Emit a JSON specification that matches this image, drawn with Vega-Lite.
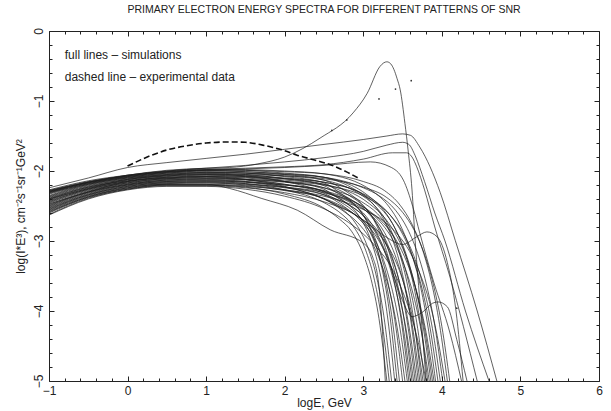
{
"$schema":"https://vega.github.io/schema/vega-lite/v6.json",
"width":550,"height":350,
"autosize":"none",
"padding":{"left":49,"top":31,"right":12,"bottom":30},
"background":"white",
"title":{"text":"PRIMARY ELECTRON ENERGY SPECTRA FOR DIFFERENT PATTERNS OF SNR","fontSize":10.5,"fontWeight":"normal","font":"Liberation Sans","color":"#222","offset":12,"anchor":"middle"},
"config":{"view":{"stroke":"#222","strokeWidth":1},"font":"Liberation Sans","axis":{"grid":false,"domain":false}},
"datasets":{
"bundle":[
{"c":1,"x":-1,"y":-2.27},{"c":1,"x":-0.5,"y":-2.14},{"c":1,"x":0,"y":-2.06},{"c":1,"x":0.5,"y":-2.0},{"c":1,"x":1,"y":-1.97},{"c":1,"x":1.5,"y":-1.98},{"c":1,"x":2,"y":-2.0},{"c":1,"x":2.5,"y":-2.04},{"c":1,"x":3.12,"y":-2.29},{"c":1,"x":3.32,"y":-2.5},{"c":1,"x":3.47,"y":-2.77},{"c":1,"x":3.62,"y":-3.2},{"c":1,"x":3.72,"y":-3.61},{"c":1,"x":3.82,"y":-4.2},{"c":1,"x":3.92,"y":-5},
{"c":2,"x":-1,"y":-2.28},{"c":2,"x":-0.5,"y":-2.15},{"c":2,"x":0,"y":-2.07},{"c":2,"x":0.5,"y":-2.01},{"c":2,"x":1,"y":-1.98},{"c":2,"x":1.5,"y":-1.99},{"c":2,"x":2,"y":-2.03},{"c":2,"x":2.5,"y":-2.09},{"c":2,"x":2.9,"y":-2.27},{"c":2,"x":3.1,"y":-2.44},{"c":2,"x":3.25,"y":-2.67},{"c":2,"x":3.4,"y":-3.07},{"c":2,"x":3.5,"y":-3.48},{"c":2,"x":3.6,"y":-4.1},{"c":2,"x":3.7,"y":-5},
{"c":3,"x":-1,"y":-2.29},{"c":3,"x":-0.5,"y":-2.16},{"c":3,"x":0,"y":-2.07},{"c":3,"x":0.5,"y":-2.01},{"c":3,"x":1,"y":-1.99},{"c":3,"x":1.5,"y":-1.99},{"c":3,"x":2,"y":-2.01},{"c":3,"x":2.5,"y":-2.04},{"c":3,"x":3.0,"y":-2.15},{"c":3,"x":3.27,"y":-2.28},{"c":3,"x":3.47,"y":-2.49},{"c":3,"x":3.62,"y":-2.76},{"c":3,"x":3.77,"y":-3.18},{"c":3,"x":3.87,"y":-3.6},{"c":3,"x":3.97,"y":-4.19},{"c":3,"x":4.07,"y":-5},
{"c":4,"x":-1,"y":-2.3},{"c":4,"x":-0.5,"y":-2.16},{"c":4,"x":0,"y":-2.08},{"c":4,"x":0.5,"y":-2.02},{"c":4,"x":1,"y":-1.99},{"c":4,"x":1.5,"y":-2.01},{"c":4,"x":2,"y":-2.05},{"c":4,"x":2.5,"y":-2.13},{"c":4,"x":2.78,"y":-2.29},{"c":4,"x":2.98,"y":-2.47},{"c":4,"x":3.13,"y":-2.69},{"c":4,"x":3.28,"y":-3.09},{"c":4,"x":3.38,"y":-3.5},{"c":4,"x":3.48,"y":-4.11},{"c":4,"x":3.58,"y":-5},
{"c":5,"x":-1,"y":-2.31},{"c":5,"x":-0.5,"y":-2.17},{"c":5,"x":0,"y":-2.09},{"c":5,"x":0.5,"y":-2.03},{"c":5,"x":1,"y":-2.0},{"c":5,"x":1.5,"y":-2.01},{"c":5,"x":2,"y":-2.04},{"c":5,"x":2.5,"y":-2.09},{"c":5,"x":3.06,"y":-2.35},{"c":5,"x":3.26,"y":-2.56},{"c":5,"x":3.41,"y":-2.83},{"c":5,"x":3.56,"y":-3.24},{"c":5,"x":3.66,"y":-3.65},{"c":5,"x":3.76,"y":-4.21},{"c":5,"x":3.86,"y":-5},
{"c":6,"x":-1,"y":-2.32},{"c":6,"x":-0.5,"y":-2.18},{"c":6,"x":0,"y":-2.09},{"c":6,"x":0.5,"y":-2.03},{"c":6,"x":1,"y":-2.01},{"c":6,"x":1.5,"y":-2.03},{"c":6,"x":2,"y":-2.08},{"c":6,"x":2.5,"y":-2.17},{"c":6,"x":2.7,"y":-2.31},{"c":6,"x":2.9,"y":-2.49},{"c":6,"x":3.05,"y":-2.72},{"c":6,"x":3.2,"y":-3.12},{"c":6,"x":3.3,"y":-3.52},{"c":6,"x":3.4,"y":-4.12},{"c":6,"x":3.5,"y":-5},
{"c":7,"x":-1,"y":-2.33},{"c":7,"x":-0.5,"y":-2.19},{"c":7,"x":0,"y":-2.1},{"c":7,"x":0.5,"y":-2.04},{"c":7,"x":1,"y":-2.02},{"c":7,"x":1.5,"y":-2.03},{"c":7,"x":2,"y":-2.05},{"c":7,"x":2.5,"y":-2.09},{"c":7,"x":3.0,"y":-2.24},{"c":7,"x":3.21,"y":-2.36},{"c":7,"x":3.41,"y":-2.56},{"c":7,"x":3.56,"y":-2.82},{"c":7,"x":3.71,"y":-3.24},{"c":7,"x":3.81,"y":-3.65},{"c":7,"x":3.91,"y":-4.21},{"c":7,"x":4.01,"y":-5},
{"c":8,"x":-1,"y":-2.35},{"c":8,"x":-0.5,"y":-2.19},{"c":8,"x":0,"y":-2.1},{"c":8,"x":0.5,"y":-2.05},{"c":8,"x":1,"y":-2.02},{"c":8,"x":1.5,"y":-2.03},{"c":8,"x":2,"y":-2.07},{"c":8,"x":2.5,"y":-2.13},{"c":8,"x":2.94,"y":-2.32},{"c":8,"x":3.14,"y":-2.49},{"c":8,"x":3.29,"y":-2.71},{"c":8,"x":3.44,"y":-3.1},{"c":8,"x":3.54,"y":-3.51},{"c":8,"x":3.64,"y":-4.11},{"c":8,"x":3.74,"y":-5},
{"c":9,"x":-1,"y":-2.36},{"c":9,"x":-0.5,"y":-2.2},{"c":9,"x":0,"y":-2.11},{"c":9,"x":0.5,"y":-2.05},{"c":9,"x":1,"y":-2.03},{"c":9,"x":1.5,"y":-2.05},{"c":9,"x":2,"y":-2.11},{"c":9,"x":2.5,"y":-2.21},{"c":9,"x":2.63,"y":-2.29},{"c":9,"x":2.83,"y":-2.43},{"c":9,"x":2.98,"y":-2.6},{"c":9,"x":3.13,"y":-2.95},{"c":9,"x":3.23,"y":-3.35},{"c":9,"x":3.33,"y":-3.99},{"c":9,"x":3.43,"y":-5},
{"c":10,"x":-1,"y":-2.37},{"c":10,"x":-0.5,"y":-2.21},{"c":10,"x":0,"y":-2.12},{"c":10,"x":0.5,"y":-2.06},{"c":10,"x":1,"y":-2.04},{"c":10,"x":1.5,"y":-2.05},{"c":10,"x":2,"y":-2.07},{"c":10,"x":2.5,"y":-2.11},{"c":10,"x":3.0,"y":-2.23},{"c":10,"x":3.3,"y":-2.38},{"c":10,"x":3.5,"y":-2.59},{"c":10,"x":3.65,"y":-2.85},{"c":10,"x":3.8,"y":-3.26},{"c":10,"x":3.9,"y":-3.66},{"c":10,"x":4.0,"y":-4.22},{"c":10,"x":4.1,"y":-5},
{"c":11,"x":-1,"y":-2.38},{"c":11,"x":-0.5,"y":-2.22},{"c":11,"x":0,"y":-2.12},{"c":11,"x":0.5,"y":-2.07},{"c":11,"x":1,"y":-2.05},{"c":11,"x":1.5,"y":-2.07},{"c":11,"x":2,"y":-2.11},{"c":11,"x":2.5,"y":-2.19},{"c":11,"x":2.82,"y":-2.35},{"c":11,"x":3.02,"y":-2.52},{"c":11,"x":3.17,"y":-2.75},{"c":11,"x":3.32,"y":-3.13},{"c":11,"x":3.42,"y":-3.54},{"c":11,"x":3.52,"y":-4.13},{"c":11,"x":3.62,"y":-5},
{"c":12,"x":-1,"y":-2.39},{"c":12,"x":-0.5,"y":-2.23},{"c":12,"x":0,"y":-2.13},{"c":12,"x":0.5,"y":-2.07},{"c":12,"x":1,"y":-2.05},{"c":12,"x":1.5,"y":-2.06},{"c":12,"x":2,"y":-2.1},{"c":12,"x":2.5,"y":-2.16},{"c":12,"x":3.02,"y":-2.35},{"c":12,"x":3.22,"y":-2.53},{"c":12,"x":3.37,"y":-2.75},{"c":12,"x":3.52,"y":-3.14},{"c":12,"x":3.62,"y":-3.53},{"c":12,"x":3.72,"y":-4.13},{"c":12,"x":3.82,"y":-5},
{"c":13,"x":-1,"y":-2.4},{"c":13,"x":-0.5,"y":-2.23},{"c":13,"x":0,"y":-2.14},{"c":13,"x":0.5,"y":-2.08},{"c":13,"x":1,"y":-2.06},{"c":13,"x":1.5,"y":-2.08},{"c":13,"x":2,"y":-2.15},{"c":13,"x":2.5,"y":-2.26},{"c":13,"x":2.6,"y":-2.33},{"c":13,"x":2.8,"y":-2.47},{"c":13,"x":2.95,"y":-2.65},{"c":13,"x":3.1,"y":-3.0},{"c":13,"x":3.2,"y":-3.39},{"c":13,"x":3.3,"y":-4.01},{"c":13,"x":3.4,"y":-5},
{"c":14,"x":-1,"y":-2.41},{"c":14,"x":-0.5,"y":-2.24},{"c":14,"x":0,"y":-2.14},{"c":14,"x":0.5,"y":-2.09},{"c":14,"x":1,"y":-2.07},{"c":14,"x":1.5,"y":-2.08},{"c":14,"x":2,"y":-2.11},{"c":14,"x":2.5,"y":-2.16},{"c":14,"x":3.15,"y":-2.43},{"c":14,"x":3.35,"y":-2.64},{"c":14,"x":3.5,"y":-2.9},{"c":14,"x":3.65,"y":-3.3},{"c":14,"x":3.75,"y":-3.69},{"c":14,"x":3.85,"y":-4.24},{"c":14,"x":3.95,"y":-5},
{"c":15,"x":-1,"y":-2.42},{"c":15,"x":-0.5,"y":-2.25},{"c":15,"x":0,"y":-2.15},{"c":15,"x":0.5,"y":-2.09},{"c":15,"x":1,"y":-2.08},{"c":15,"x":1.5,"y":-2.1},{"c":15,"x":2,"y":-2.15},{"c":15,"x":2.5,"y":-2.24},{"c":15,"x":2.86,"y":-2.42},{"c":15,"x":3.06,"y":-2.6},{"c":15,"x":3.21,"y":-2.82},{"c":15,"x":3.36,"y":-3.2},{"c":15,"x":3.46,"y":-3.59},{"c":15,"x":3.56,"y":-4.16},{"c":15,"x":3.66,"y":-5},
{"c":16,"x":-1,"y":-2.43},{"c":16,"x":-0.5,"y":-2.26},{"c":16,"x":0,"y":-2.15},{"c":16,"x":0.5,"y":-2.1},{"c":16,"x":1,"y":-2.08},{"c":16,"x":1.5,"y":-2.09},{"c":16,"x":2,"y":-2.13},{"c":16,"x":2.5,"y":-2.19},{"c":16,"x":3.08,"y":-2.47},{"c":16,"x":3.28,"y":-2.68},{"c":16,"x":3.43,"y":-2.94},{"c":16,"x":3.58,"y":-3.33},{"c":16,"x":3.68,"y":-3.73},{"c":16,"x":3.78,"y":-4.26},{"c":16,"x":3.88,"y":-5},
{"c":17,"x":-1,"y":-2.44},{"c":17,"x":-0.5,"y":-2.26},{"c":17,"x":0,"y":-2.16},{"c":17,"x":0.5,"y":-2.11},{"c":17,"x":1,"y":-2.09},{"c":17,"x":1.5,"y":-2.12},{"c":17,"x":2,"y":-2.19},{"c":17,"x":2.5,"y":-2.32},{"c":17,"x":2.66,"y":-2.41},{"c":17,"x":2.86,"y":-2.56},{"c":17,"x":3.01,"y":-2.73},{"c":17,"x":3.16,"y":-3.07},{"c":17,"x":3.26,"y":-3.45},{"c":17,"x":3.36,"y":-4.05},{"c":17,"x":3.46,"y":-5},
{"c":18,"x":-1,"y":-2.45},{"c":18,"x":-0.5,"y":-2.27},{"c":18,"x":0,"y":-2.17},{"c":18,"x":0.5,"y":-2.11},{"c":18,"x":1,"y":-2.1},{"c":18,"x":1.5,"y":-2.12},{"c":18,"x":2,"y":-2.16},{"c":18,"x":2.5,"y":-2.24},{"c":18,"x":2.98,"y":-2.44},{"c":18,"x":3.18,"y":-2.61},{"c":18,"x":3.33,"y":-2.83},{"c":18,"x":3.48,"y":-3.2},{"c":18,"x":3.58,"y":-3.6},{"c":18,"x":3.68,"y":-4.16},{"c":18,"x":3.78,"y":-5},
{"c":19,"x":-1,"y":-2.46},{"c":19,"x":-0.5,"y":-2.28},{"c":19,"x":0,"y":-2.17},{"c":19,"x":0.5,"y":-2.12},{"c":19,"x":1,"y":-2.11},{"c":19,"x":1.5,"y":-2.13},{"c":19,"x":2,"y":-2.19},{"c":19,"x":2.5,"y":-2.29},{"c":19,"x":2.8,"y":-2.47},{"c":19,"x":3.0,"y":-2.64},{"c":19,"x":3.15,"y":-2.87},{"c":19,"x":3.3,"y":-3.24},{"c":19,"x":3.4,"y":-3.63},{"c":19,"x":3.5,"y":-4.18},{"c":19,"x":3.6,"y":-5},
{"c":20,"x":-1,"y":-2.48},{"c":20,"x":-0.5,"y":-2.29},{"c":20,"x":0,"y":-2.18},{"c":20,"x":0.5,"y":-2.13},{"c":20,"x":1,"y":-2.11},{"c":20,"x":1.5,"y":-2.12},{"c":20,"x":2,"y":-2.15},{"c":20,"x":2.5,"y":-2.2},{"c":20,"x":3.18,"y":-2.47},{"c":20,"x":3.38,"y":-2.68},{"c":20,"x":3.53,"y":-2.93},{"c":20,"x":3.68,"y":-3.33},{"c":20,"x":3.78,"y":-3.72},{"c":20,"x":3.88,"y":-4.25},{"c":20,"x":3.98,"y":-5},
{"c":21,"x":-1,"y":-2.49},{"c":21,"x":-0.5,"y":-2.3},{"c":21,"x":0,"y":-2.19},{"c":21,"x":0.5,"y":-2.13},{"c":21,"x":1,"y":-2.12},{"c":21,"x":1.5,"y":-2.15},{"c":21,"x":2,"y":-2.23},{"c":21,"x":2.56,"y":-2.43},{"c":21,"x":2.76,"y":-2.57},{"c":21,"x":2.91,"y":-2.76},{"c":21,"x":3.06,"y":-3.1},{"c":21,"x":3.16,"y":-3.47},{"c":21,"x":3.26,"y":-4.06},{"c":21,"x":3.36,"y":-5},
{"c":22,"x":-1,"y":-2.5},{"c":22,"x":-0.5,"y":-2.3},{"c":22,"x":0,"y":-2.19},{"c":22,"x":0.5,"y":-2.14},{"c":22,"x":1,"y":-2.13},{"c":22,"x":1.5,"y":-2.15},{"c":22,"x":2,"y":-2.2},{"c":22,"x":2.5,"y":-2.29},{"c":22,"x":2.92,"y":-2.49},{"c":22,"x":3.12,"y":-2.65},{"c":22,"x":3.27,"y":-2.88},{"c":22,"x":3.42,"y":-3.25},{"c":22,"x":3.52,"y":-3.63},{"c":22,"x":3.62,"y":-4.18},{"c":22,"x":3.72,"y":-5},
{"c":23,"x":-1,"y":-2.51},{"c":23,"x":-0.5,"y":-2.31},{"c":23,"x":0,"y":-2.2},{"c":23,"x":0.5,"y":-2.15},{"c":23,"x":1,"y":-2.14},{"c":23,"x":1.5,"y":-2.16},{"c":23,"x":2,"y":-2.23},{"c":23,"x":2.5,"y":-2.34},{"c":23,"x":2.76,"y":-2.51},{"c":23,"x":2.96,"y":-2.7},{"c":23,"x":3.11,"y":-2.91},{"c":23,"x":3.26,"y":-3.28},{"c":23,"x":3.36,"y":-3.66},{"c":23,"x":3.46,"y":-4.2},{"c":23,"x":3.56,"y":-5},
{"c":24,"x":-1,"y":-2.52},{"c":24,"x":-0.5,"y":-2.32},{"c":24,"x":0,"y":-2.2},{"c":24,"x":0.5,"y":-2.15},{"c":24,"x":1,"y":-2.14},{"c":24,"x":1.5,"y":-2.16},{"c":24,"x":2,"y":-2.2},{"c":24,"x":2.5,"y":-2.28},{"c":24,"x":3.04,"y":-2.55},{"c":24,"x":3.24,"y":-2.76},{"c":24,"x":3.39,"y":-3.01},{"c":24,"x":3.54,"y":-3.41},{"c":24,"x":3.64,"y":-3.78},{"c":24,"x":3.74,"y":-4.3},{"c":24,"x":3.84,"y":-5},
{"c":25,"x":-1,"y":-2.53},{"c":25,"x":-0.5,"y":-2.33},{"c":25,"x":0,"y":-2.21},{"c":25,"x":0.5,"y":-2.16},{"c":25,"x":1,"y":-2.15},{"c":25,"x":1.5,"y":-2.18},{"c":25,"x":2,"y":-2.27},{"c":25,"x":2.53,"y":-2.47},{"c":25,"x":2.73,"y":-2.62},{"c":25,"x":2.88,"y":-2.8},{"c":25,"x":3.03,"y":-3.13},{"c":25,"x":3.13,"y":-3.5},{"c":25,"x":3.23,"y":-4.09},{"c":25,"x":3.33,"y":-5},
{"c":26,"x":-1,"y":-2.54},{"c":26,"x":-0.5,"y":-2.34},{"c":26,"x":0,"y":-2.22},{"c":26,"x":0.5,"y":-2.17},{"c":26,"x":1,"y":-2.16},{"c":26,"x":1.5,"y":-2.18},{"c":26,"x":2,"y":-2.24},{"c":26,"x":2.5,"y":-2.34},{"c":26,"x":2.88,"y":-2.53},{"c":26,"x":3.08,"y":-2.72},{"c":26,"x":3.23,"y":-2.93},{"c":26,"x":3.38,"y":-3.29},{"c":26,"x":3.48,"y":-3.67},{"c":26,"x":3.58,"y":-4.21},{"c":26,"x":3.68,"y":-5},
{"c":27,"x":-1,"y":-2.55},{"c":27,"x":-0.5,"y":-2.34},{"c":27,"x":0,"y":-2.22},{"c":27,"x":0.5,"y":-2.17},{"c":27,"x":1,"y":-2.17},{"c":27,"x":1.5,"y":-2.2},{"c":27,"x":2,"y":-2.27},{"c":27,"x":2.5,"y":-2.4},{"c":27,"x":2.73,"y":-2.56},{"c":27,"x":2.93,"y":-2.74},{"c":27,"x":3.08,"y":-2.96},{"c":27,"x":3.23,"y":-3.33},{"c":27,"x":3.33,"y":-3.69},{"c":27,"x":3.43,"y":-4.23},{"c":27,"x":3.53,"y":-5},
{"c":28,"x":-1,"y":-2.56},{"c":28,"x":-0.5,"y":-2.35},{"c":28,"x":0,"y":-2.23},{"c":28,"x":0.5,"y":-2.18},{"c":28,"x":1,"y":-2.17},{"c":28,"x":1.5,"y":-2.19},{"c":28,"x":2,"y":-2.23},{"c":28,"x":2.5,"y":-2.31},{"c":28,"x":3.1,"y":-2.59},{"c":28,"x":3.3,"y":-2.8},{"c":28,"x":3.45,"y":-3.05},{"c":28,"x":3.6,"y":-3.44},{"c":28,"x":3.7,"y":-3.81},{"c":28,"x":3.8,"y":-4.31},{"c":28,"x":3.9,"y":-5},
{"c":29,"x":-1,"y":-2.57},{"c":29,"x":-0.5,"y":-2.36},{"c":29,"x":0,"y":-2.24},{"c":29,"x":0.5,"y":-2.19},{"c":29,"x":1,"y":-2.19},{"c":29,"x":1.3,"y":-2.25},{"c":29,"x":1.7,"y":-2.39},{"c":29,"x":2.16,"y":-2.56},{"c":29,"x":2.58,"y":-2.84},{"c":29,"x":3.0,"y":-3.03},{"c":29,"x":3.12,"y":-3.23},{"c":29,"x":3.2,"y":-3.65},{"c":29,"x":3.25,"y":-4.4},{"c":29,"x":3.28,"y":-5},
{"c":30,"x":-1,"y":-2.58},{"c":30,"x":-0.5,"y":-2.37},{"c":30,"x":0,"y":-2.24},{"c":30,"x":0.5,"y":-2.19},{"c":30,"x":1,"y":-2.19},{"c":30,"x":1.5,"y":-2.21},{"c":30,"x":2,"y":-2.28},{"c":30,"x":2.5,"y":-2.39},{"c":30,"x":2.84,"y":-2.58},{"c":30,"x":3.04,"y":-2.76},{"c":30,"x":3.19,"y":-2.98},{"c":30,"x":3.34,"y":-3.34},{"c":30,"x":3.44,"y":-3.71},{"c":30,"x":3.54,"y":-4.23},{"c":30,"x":3.64,"y":-5},
{"c":31,"x":-1,"y":-2.59},{"c":31,"x":-0.5,"y":-2.37},{"c":31,"x":0,"y":-2.25},{"c":31,"x":0.5,"y":-2.2},{"c":31,"x":1,"y":-2.2},{"c":31,"x":1.5,"y":-2.23},{"c":31,"x":2,"y":-2.33},{"c":31,"x":2.5,"y":-2.53},{"c":31,"x":2.7,"y":-2.69},{"c":31,"x":2.85,"y":-2.86},{"c":31,"x":3.0,"y":-3.19},{"c":31,"x":3.1,"y":-3.55},{"c":31,"x":3.2,"y":-4.11},{"c":31,"x":3.3,"y":-5},
{"c":32,"x":-1,"y":-2.6},{"c":32,"x":-0.5,"y":-2.38},{"c":32,"x":0,"y":-2.26},{"c":32,"x":0.5,"y":-2.2},{"c":32,"x":1,"y":-2.2},{"c":32,"x":1.5,"y":-2.22},{"c":32,"x":2,"y":-2.27},{"c":32,"x":2.5,"y":-2.36},{"c":32,"x":3.0,"y":-2.55},{"c":32,"x":3.24,"y":-2.7},{"c":32,"x":3.44,"y":-2.91},{"c":32,"x":3.59,"y":-3.15},{"c":32,"x":3.74,"y":-3.52},{"c":32,"x":3.84,"y":-3.86},{"c":32,"x":3.94,"y":-4.35},{"c":32,"x":4.04,"y":-5},
{"c":33,"x":-1,"y":-2.62},{"c":33,"x":-0.5,"y":-2.39},{"c":33,"x":0,"y":-2.26},{"c":33,"x":0.5,"y":-2.21},{"c":33,"x":1,"y":-2.21},{"c":33,"x":1.5,"y":-2.24},{"c":33,"x":2,"y":-2.31},{"c":33,"x":2.5,"y":-2.44},{"c":33,"x":2.96,"y":-2.67},{"c":33,"x":3.16,"y":-2.86},{"c":33,"x":3.31,"y":-3.07},{"c":33,"x":3.46,"y":-3.42},{"c":33,"x":3.56,"y":-3.78},{"c":33,"x":3.66,"y":-4.28},{"c":33,"x":3.76,"y":-5},
{"c":34,"x":-1,"y":-2.63},{"c":34,"x":-0.5,"y":-2.4},{"c":34,"x":0,"y":-2.27},{"c":34,"x":0.5,"y":-2.22},{"c":34,"x":1,"y":-2.22},{"c":34,"x":1.5,"y":-2.26},{"c":34,"x":2,"y":-2.36},{"c":34,"x":2.5,"y":-2.54},{"c":34,"x":3.0,"y":-2.9},{"c":34,"x":3.2,"y":-3.13},{"c":34,"x":3.35,"y":-3.36},{"c":34,"x":3.5,"y":-3.72},{"c":34,"x":3.6,"y":-4.03},{"c":34,"x":3.7,"y":-4.45},{"c":34,"x":3.8,"y":-5}
],
"special":[
{"c":"A","x":-1,"y":-2.24},{"c":"A","x":-0.5,"y":-2.1},{"c":"A","x":0,"y":-1.95},{"c":"A","x":0.5,"y":-1.88},{"c":"A","x":1,"y":-1.82},{"c":"A","x":1.5,"y":-1.76},{"c":"A","x":2,"y":-1.69},{"c":"A","x":2.5,"y":-1.62},{"c":"A","x":3,"y":-1.55},{"c":"A","x":3.3,"y":-1.5},{"c":"A","x":3.5,"y":-1.47},{"c":"A","x":3.6,"y":-1.49},{"c":"A","x":3.72,"y":-1.66},{"c":"A","x":3.85,"y":-1.94},{"c":"A","x":3.98,"y":-2.31},{"c":"A","x":4.17,"y":-2.99},{"c":"A","x":4.45,"y":-4.0},{"c":"A","x":4.7,"y":-5},
{"c":"B","x":-1,"y":-2.29},{"c":"B","x":-0.5,"y":-2.16},{"c":"B","x":0,"y":-2.06},{"c":"B","x":0.5,"y":-2.0},{"c":"B","x":1,"y":-1.96},{"c":"B","x":1.5,"y":-1.92},{"c":"B","x":2,"y":-1.87},{"c":"B","x":2.5,"y":-1.81},{"c":"B","x":3,"y":-1.72},{"c":"B","x":3.3,"y":-1.63},{"c":"B","x":3.5,"y":-1.59},{"c":"B","x":3.58,"y":-1.62},{"c":"B","x":3.66,"y":-1.78},{"c":"B","x":3.78,"y":-2.15},{"c":"B","x":3.91,"y":-2.6},{"c":"B","x":4.04,"y":-3.0},{"c":"B","x":4.3,"y":-4.0},{"c":"B","x":4.6,"y":-5},
{"c":"C","x":-1,"y":-2.3},{"c":"C","x":-0.5,"y":-2.17},{"c":"C","x":0,"y":-2.07},{"c":"C","x":0.5,"y":-2.01},{"c":"C","x":1,"y":-1.98},{"c":"C","x":1.5,"y":-1.96},{"c":"C","x":2,"y":-1.94},{"c":"C","x":2.5,"y":-1.91},{"c":"C","x":3,"y":-1.83},{"c":"C","x":3.37,"y":-1.74},{"c":"C","x":3.55,"y":-1.74},{"c":"C","x":3.62,"y":-1.8},{"c":"C","x":3.68,"y":-1.94},{"c":"C","x":3.78,"y":-2.27},{"c":"C","x":3.91,"y":-2.8},{"c":"C","x":4.1,"y":-3.5},{"c":"C","x":4.45,"y":-5},
{"c":"D","x":-1,"y":-2.31},{"c":"D","x":-0.5,"y":-2.18},{"c":"D","x":0,"y":-2.08},{"c":"D","x":0.5,"y":-2.02},{"c":"D","x":1,"y":-1.99},{"c":"D","x":1.5,"y":-1.97},{"c":"D","x":2,"y":-1.95},{"c":"D","x":2.5,"y":-1.92},{"c":"D","x":3.09,"y":-1.87},{"c":"D","x":3.34,"y":-1.94},{"c":"D","x":3.51,"y":-2.13},{"c":"D","x":3.63,"y":-2.51},{"c":"D","x":3.72,"y":-2.89},{"c":"D","x":3.9,"y":-3.6},{"c":"D","x":4.1,"y":-4.3},{"c":"D","x":4.25,"y":-5},
{"c":"P","x":-1,"y":-2.28},{"c":"P","x":-0.5,"y":-2.16},{"c":"P","x":0,"y":-2.06},{"c":"P","x":0.5,"y":-1.99},{"c":"P","x":1,"y":-1.96},{"c":"P","x":1.3,"y":-1.95},{"c":"P","x":1.65,"y":-1.9},{"c":"P","x":2.0,"y":-1.8},{"c":"P","x":2.45,"y":-1.53},{"c":"P","x":2.87,"y":-1.17},{"c":"P","x":3.05,"y":-0.89},{"c":"P","x":3.21,"y":-0.51},{"c":"P","x":3.26,"y":-0.455},{"c":"P","x":3.3,"y":-0.44},{"c":"P","x":3.35,"y":-0.47},{"c":"P","x":3.39,"y":-0.55},{"c":"P","x":3.43,"y":-0.68},{"c":"P","x":3.47,"y":-0.84},{"c":"P","x":3.53,"y":-1.32},{"c":"P","x":3.57,"y":-1.7},{"c":"P","x":3.62,"y":-2.27},{"c":"P","x":3.66,"y":-2.99},{"c":"P","x":3.73,"y":-4.0},{"c":"P","x":3.8,"y":-5},
{"c":"X","x":-1,"y":-2.47},{"c":"X","x":-0.5,"y":-2.3},{"c":"X","x":0,"y":-2.15},{"c":"X","x":0.5,"y":-2.1},{"c":"X","x":1,"y":-2.08},{"c":"X","x":1.5,"y":-2.12},{"c":"X","x":2,"y":-2.22},{"c":"X","x":2.5,"y":-2.4},{"c":"X","x":3.0,"y":-2.7},{"c":"X","x":3.3,"y":-2.95},{"c":"X","x":3.5,"y":-3.05},{"c":"X","x":3.68,"y":-2.94},{"c":"X","x":3.81,"y":-2.87},{"c":"X","x":3.94,"y":-2.94},{"c":"X","x":4.07,"y":-3.31},{"c":"X","x":4.18,"y":-4.0},{"c":"X","x":4.27,"y":-5},
{"c":"Y","x":-1,"y":-2.4},{"c":"Y","x":-0.5,"y":-2.25},{"c":"Y","x":0,"y":-2.12},{"c":"Y","x":0.5,"y":-2.06},{"c":"Y","x":1,"y":-2.04},{"c":"Y","x":1.5,"y":-2.07},{"c":"Y","x":2,"y":-2.15},{"c":"Y","x":2.5,"y":-2.3},{"c":"Y","x":3.0,"y":-2.6},{"c":"Y","x":3.3,"y":-3.2},{"c":"Y","x":3.5,"y":-3.85},{"c":"Y","x":3.62,"y":-4.08},{"c":"Y","x":3.75,"y":-4.02},{"c":"Y","x":3.88,"y":-3.89},{"c":"Y","x":3.95,"y":-3.87},{"c":"Y","x":4.07,"y":-3.94},{"c":"Y","x":4.19,"y":-4.41},{"c":"Y","x":4.32,"y":-5}
],
"exp":[
{"x":0,"y":-1.93},{"x":0.25,"y":-1.8},{"x":0.5,"y":-1.7},{"x":0.75,"y":-1.64},{"x":1.0,"y":-1.6},{"x":1.3,"y":-1.585},{"x":1.5,"y":-1.59},{"x":1.72,"y":-1.63},{"x":2.0,"y":-1.71},{"x":2.15,"y":-1.77},{"x":2.4,"y":-1.85},{"x":2.58,"y":-1.91},{"x":2.8,"y":-2.02},{"x":2.95,"y":-2.11}
],
"notes":[
{"x":-0.8,"y":-0.34,"t":"full lines – simulations"},
{"x":-0.8,"y":-0.65,"t":"dashed line – experimental data"}
],
"dots":[
{"x":2.6,"y":-1.42},{"x":2.79,"y":-1.27},{"x":3.2,"y":-0.97},{"x":3.41,"y":-0.83},{"x":3.61,"y":-0.71},{"x":4.19,"y":-3.96}
]
},
"layer":[
{"data":{"name":"bundle"},
 "mark":{"type":"line","interpolate":"monotone","strokeWidth":0.7,"color":"#1c1c1c","clip":true},
 "encoding":{
  "x":{"field":"x","type":"quantitative","scale":{"domain":[-1,6],"nice":false,"zero":false},
   "axis":{"orient":"bottom","values":[-1,0,1,2,3,4,5,6],"ticks":false,"domain":false,"grid":false,"labelPadding":4,"labelFontSize":12,"labelColor":"#222","labelFlush":false,"labelOverlap":false,"title":"logE, GeV","titleFontSize":12,"titleFontWeight":"normal","titleColor":"#222","titlePadding":1}},
  "y":{"field":"y","type":"quantitative","scale":{"domain":[-5,0],"nice":false,"zero":false},
   "axis":{"orient":"left","values":[-5,-4,-3,-2,-1,0],"ticks":false,"domain":false,"grid":false,"labelAngle":-90,"labelAlign":"center","labelBaseline":"bottom","labelPadding":4,"labelFontSize":12,"labelColor":"#222","labelFlush":false,"labelOverlap":false,"title":"log(I*E³), cm⁻²s⁻¹sr⁻¹GeV²","titleFontSize":12,"titleFontWeight":"normal","titleColor":"#222","titlePadding":5}},
  "detail":{"field":"c","type":"nominal"}
 }},
{"data":{"name":"special"},
 "mark":{"type":"line","interpolate":"monotone","strokeWidth":0.7,"color":"#1c1c1c","clip":true},
 "encoding":{
  "x":{"field":"x","type":"quantitative","scale":{"domain":[-1,6],"nice":false,"zero":false},
   "axis":{"orient":"top","values":[-1,0,1,2,3,4,5,6],"labels":false,"domain":false,"grid":false,"ticks":true,"tickSize":-5,"tickColor":"#222","title":null}},
  "y":{"field":"y","type":"quantitative","scale":{"domain":[-5,0],"nice":false,"zero":false},
   "axis":{"orient":"right","values":[-5,-4,-3,-2,-1,0],"labels":false,"domain":false,"grid":false,"ticks":true,"tickSize":-5,"tickColor":"#222","title":null}},
  "detail":{"field":"c","type":"nominal"}
 }},
{"data":{"name":"exp"},
 "mark":{"type":"line","interpolate":"monotone","strokeWidth":1.6,"strokeDash":[6,3],"color":"#111","clip":true},
 "encoding":{
  "x":{"field":"x","type":"quantitative","scale":{"domain":[-1,6],"nice":false,"zero":false},
   "axis":{"orient":"bottom","values":[-0.8,-0.6,-0.4,-0.2,0.2,0.4,0.6,0.8,1.2,1.4,1.6,1.8,2.2,2.4,2.6,2.8,3.2,3.4,3.6,3.8,4.2,4.4,4.6,4.8,5.2,5.4,5.6,5.8],"labels":false,"domain":false,"grid":false,"ticks":true,"tickSize":-3,"tickColor":"#222","title":null}},
  "y":{"field":"y","type":"quantitative","scale":{"domain":[-5,0],"nice":false,"zero":false},
   "axis":{"orient":"left","values":[-4.8,-4.6,-4.4,-4.2,-3.8,-3.6,-3.4,-3.2,-2.8,-2.6,-2.4,-2.2,-1.8,-1.6,-1.4,-1.2,-0.8,-0.6,-0.4,-0.2],"labels":false,"domain":false,"grid":false,"ticks":true,"tickSize":-3,"tickColor":"#222","title":null}}
 }},
{"data":{"name":"notes"},
 "mark":{"type":"text","align":"left","baseline":"middle","fontSize":12,"font":"Liberation Sans","color":"#222"},
 "encoding":{
  "x":{"field":"x","type":"quantitative","scale":{"domain":[-1,6],"nice":false,"zero":false},
   "axis":{"orient":"top","values":[-0.8,-0.6,-0.4,-0.2,0.2,0.4,0.6,0.8,1.2,1.4,1.6,1.8,2.2,2.4,2.6,2.8,3.2,3.4,3.6,3.8,4.2,4.4,4.6,4.8,5.2,5.4,5.6,5.8],"labels":false,"domain":false,"grid":false,"ticks":true,"tickSize":-3,"tickColor":"#222","title":null}},
  "y":{"field":"y","type":"quantitative","scale":{"domain":[-5,0],"nice":false,"zero":false},
   "axis":{"orient":"right","values":[-4.8,-4.6,-4.4,-4.2,-3.8,-3.6,-3.4,-3.2,-2.8,-2.6,-2.4,-2.2,-1.8,-1.6,-1.4,-1.2,-0.8,-0.6,-0.4,-0.2],"labels":false,"domain":false,"grid":false,"ticks":true,"tickSize":-3,"tickColor":"#222","title":null}},
  "text":{"field":"t","type":"nominal"}
 }},
{"data":{"name":"dots"},
 "mark":{"type":"point","filled":true,"size":3,"color":"#333","opacity":1},
 "encoding":{
  "x":{"field":"x","type":"quantitative","scale":{"domain":[-1,6],"nice":false,"zero":false},
   "axis":{"orient":"bottom","values":[-1,0,1,2,3,4,5,6],"labels":false,"domain":false,"grid":false,"ticks":true,"tickSize":-5,"tickColor":"#222","title":null}},
  "y":{"field":"y","type":"quantitative","scale":{"domain":[-5,0],"nice":false,"zero":false},
   "axis":{"orient":"left","values":[-5,-4,-3,-2,-1,0],"labels":false,"domain":false,"grid":false,"ticks":true,"tickSize":-5,"tickColor":"#222","title":null}}
 }}
],
"resolve":{"axis":{"x":"independent","y":"independent"}}
}
